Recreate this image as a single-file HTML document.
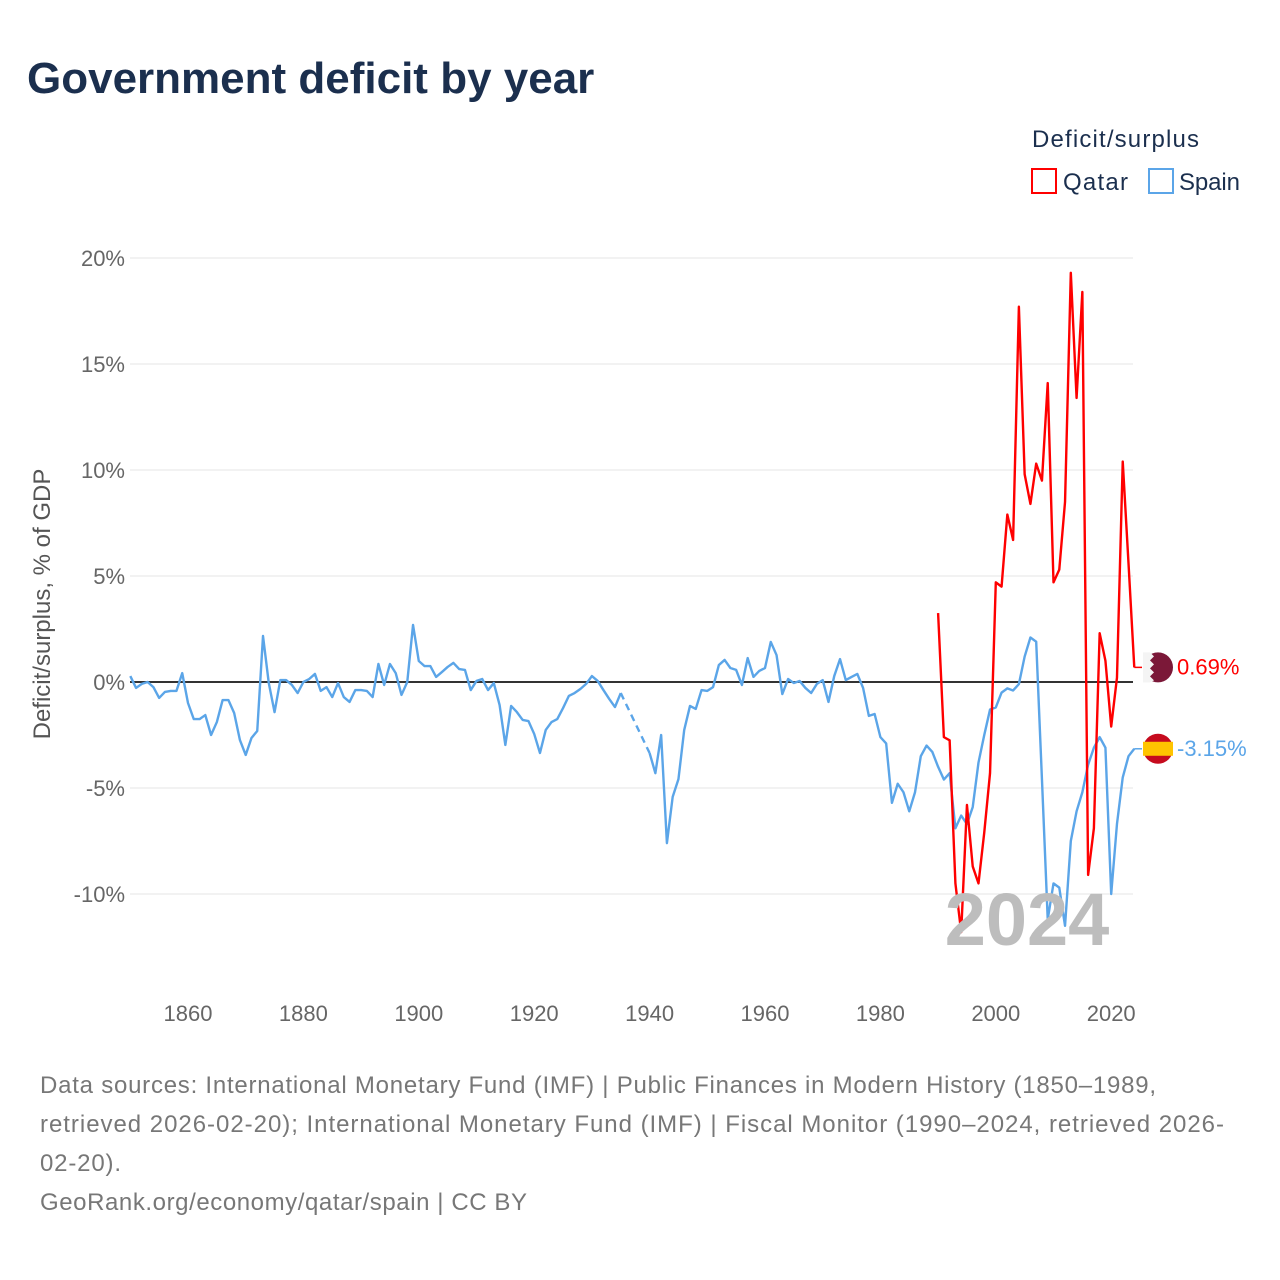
<!DOCTYPE html>
<html><head><meta charset="utf-8">
<style>
body{margin:0;background:#fff;width:1280px;height:1280px;overflow:hidden;font-family:"Liberation Sans",sans-serif;}
svg{display:block}
</style></head>
<body>
<svg id="chart" width="1280" height="1280">
<text x="27" y="93" font-size="44" font-weight="bold" fill="#1b2f4e">Government deficit by year</text>
<text x="1032" y="147" font-size="24" fill="#1b2f4e" textLength="167">Deficit/surplus</text>
<g><rect x="1032" y="169" width="24" height="24" fill="none" stroke="#f00" stroke-width="2"/><text x="1063" y="190" font-size="24" fill="#1b2f4e" textLength="65">Qatar</text></g>
<g><rect x="1149" y="169" width="24" height="24" fill="none" stroke="#5ba5e8" stroke-width="2"/><text x="1179" y="190" font-size="24" fill="#1b2f4e" textLength="61">Spain</text></g>
<text transform="translate(50,604) rotate(-90)" text-anchor="middle" font-size="24" fill="#555">Deficit/surplus, % of GDP</text>
<g id="grid"></g><g id="series"></g>
<text x="1027" y="945" text-anchor="middle" font-size="74" font-weight="bold" fill="#bdbdbd">2024</text>
<g id="endlabels"></g>
<g font-size="24" fill="#777">
<text x="40" y="1093" textLength="1116">Data sources: International Monetary Fund (IMF) | Public Finances in Modern History (1850–1989,</text>
<text x="40" y="1132" textLength="1184">retrieved 2026-02-20); International Monetary Fund (IMF) | Fiscal Monitor (1990–2024, retrieved 2026-</text>
<text x="40" y="1171" textLength="81">02-20).</text>
<text x="40" y="1210" textLength="487">GeoRank.org/economy/qatar/spain | CC BY</text>
</g>
</svg>
<script>
const yTicks=[20,15,10,5,0,-5,-10];
const yTickLabels=["20%","15%","10%","5%","0%","-5%","-10%"];
const xTicks=[1860,1880,1900,1920,1940,1960,1980,2000,2020];
const spainStart=1850;
const spainValues=[0.28,-0.28,-0.09,0,-0.24,-0.75,-0.47,-0.42,-0.42,0.42,-0.99,-1.75,-1.75,-1.56,-2.5,-1.89,-0.85,-0.85,-1.46,-2.74,-3.44,-2.64,-2.31,2.17,-0.05,-1.42,0.09,0.09,-0.14,-0.52,0,0.14,0.38,-0.42,-0.24,-0.71,-0.05,-0.71,-0.94,-0.38,-0.38,-0.42,-0.71,0.85,-0.14,0.85,0.42,-0.61,0,2.69,0.99,0.75,0.75,0.24,0.47,0.71,0.9,0.61,0.57,-0.38,0.05,0.14,-0.38,-0.05,-1.08,-2.97,-1.13,-1.42,-1.79,-1.84,-2.45,-3.35,-2.26,-1.89,-1.75,-1.23,-0.66,-0.52,-0.33,-0.09,0.28,0.05,-0.38,-0.8,-1.18,-0.52,
null,null,null,null,-3.35,-4.3,-2.5,-7.6,
-5.42,-4.58,-2.26,-1.13,-1.27,-0.38,-0.42,-0.24,0.8,1.04,0.66,0.57,-0.14,1.13,0.24,0.52,0.66,1.89,1.27,-0.57,0.14,-0.05,0.05,-0.28,-0.52,-0.09,0.09,-0.94,0.28,1.08,0.09,0.24,0.38,-0.28,-1.6,-1.51,
-2.6,-2.9,-5.7,-4.8,-5.2,-6.1,-5.2,-3.5,-3.0,-3.3,
-4.0,-4.6,-4.3,-6.9,-6.3,-6.7,-5.9,-3.8,-2.5,-1.3,-1.2,-0.5,-0.3,-0.4,-0.1,1.2,2.1,1.9,-4.6,-11.2,-9.5,-9.7,-11.5,-7.5,-6.1,-5.2,-3.9,-3.1,-2.6,-3.1,-10.0,-6.7,-4.5,-3.5,-3.15];
const qatarStart=1990;
const qatarValues=[3.25,-2.6,-2.75,-9.5,-11.8,-5.8,-8.7,-9.5,-7.1,-4.3,4.7,4.5,7.9,6.7,17.7,9.8,8.4,10.3,9.5,14.1,4.7,5.3,8.5,19.3,13.4,18.4,-9.1,-6.9,2.3,1.0,-2.1,0.2,10.4,5.6,0.69];
const NS="http://www.w3.org/2000/svg";
const X0=130.3,PXY=5.77,Y0=682,PXV=21.2;
const xs=yr=>X0+(yr-1850)*PXY;
const ys=v=>Y0-v*PXV;
function mk(tag,attrs,parent){const e=document.createElementNS(NS,tag);for(const k in attrs)e.setAttribute(k,attrs[k]);parent.appendChild(e);return e;}
const grid=document.getElementById('grid');
yTicks.forEach((t,i)=>{
 if(t!==0){const l=mk('line',{x1:130,x2:1133,y1:ys(t),y2:ys(t),stroke:'#e6e6e6','stroke-width':1},grid);
 
 }
 const tx=mk('text',{x:125,y:ys(t)+8,'text-anchor':'end','font-size':22,fill:'#666'},grid);
 tx.textContent=yTickLabels[i];
 
 
});
xTicks.forEach(t=>{
 const tx=mk('text',{x:xs(t),y:1021,'text-anchor':'middle','font-size':22,fill:'#666'},grid);
 tx.textContent=t;
 
 
});
const zl=mk('line',{x1:130,x2:1133,y1:ys(0),y2:ys(0),stroke:'#333','stroke-width':2},grid);


const ser=document.getElementById('series');
function drawSeries(start,vals,color,name){
 let solid=[],dashed=[];let cur=[];let last=null;
 vals.forEach((v,i)=>{
  if(v===null){return;}
  const p=[xs(start+i),ys(v)];
  if(last&&i-last.i>1){dashed.push([last.p,p]);solid.push(cur);cur=[];}
  cur.push(p);last={i,p};
 });
 solid.push(cur);
 solid.forEach(seg=>{if(seg.length<2)return;
  const pl=mk('polyline',{points:seg.map(p=>p.join(',')).join(' '),fill:'none',stroke:color,'stroke-width':2.4,'stroke-linejoin':'round'},ser);
  
  });
 dashed.forEach(seg=>{
  const pl=mk('polyline',{points:seg.map(p=>p.join(',')).join(' '),fill:'none',stroke:color,'stroke-width':2.4,'stroke-dasharray':'7,5'},ser);
  
  });
 return last.p;
}
const sp=drawSeries(spainStart,spainValues,'#5ba5e8','spain');
const qp=drawSeries(qatarStart,qatarValues,'#ff0000','qatar');
const el=document.getElementById('endlabels');
const c1=mk('line',{x1:qp[0],x2:1142,y1:qp[1],y2:qp[1],stroke:'#ff0000','stroke-width':1.5},el);


const c2=mk('line',{x1:sp[0],x2:1142,y1:sp[1],y2:sp[1],stroke:'#5ba5e8','stroke-width':1.5},el);


const fq=mk('g',{},el);


mk('circle',{cx:1158,cy:qp[1],r:15,fill:'#7b1838'},fq);
mk('path',{d:`M1143,${qp[1]-15} L1150,${qp[1]-15} L1154,${qp[1]-11} L1150,${qp[1]-7} L1154,${qp[1]-3} L1150,${qp[1]+1} L1154,${qp[1]+5} L1150,${qp[1]+9} L1154,${qp[1]+13} L1150,${qp[1]+15} L1143,${qp[1]+15} Z`,fill:'#f4f4f4'},fq);
const fs=mk('g',{},el);


mk('circle',{cx:1158,cy:sp[1],r:15,fill:'#c60b1e'},fs);
mk('rect',{x:1143,y:sp[1]-7,width:30,height:14,fill:'#ffc400'},fs);
const tq=mk('text',{x:1177,y:qp[1]+7,'font-size':22,fill:'#ff0000'},el);
tq.textContent=qatarValues[qatarValues.length-1].toFixed(2)+'%';


const ts=mk('text',{x:1177,y:sp[1]+7,'font-size':22,fill:'#5ba5e8'},el);
ts.textContent=spainValues[spainValues.length-1].toFixed(2)+'%';


</script>
</body></html>
